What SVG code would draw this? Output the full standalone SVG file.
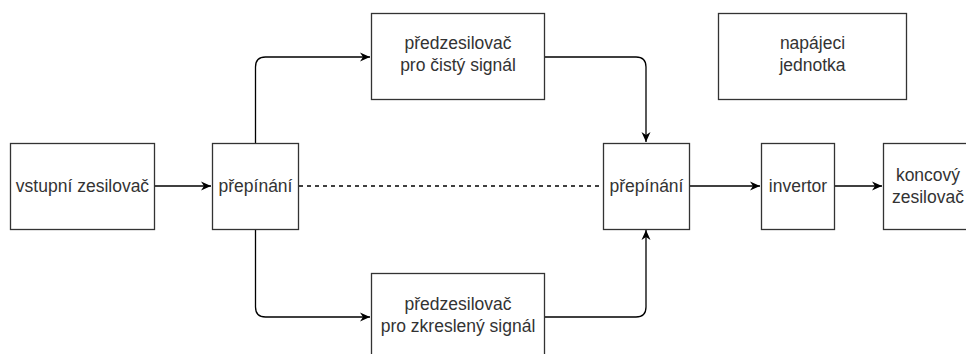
<svg xmlns="http://www.w3.org/2000/svg" width="966" height="354" viewBox="0 0 966 354">
<defs>
<style>
.box{fill:#fff;stroke:#333;stroke-width:1.3}
.t{font-family:"Liberation Sans",Arial,Helvetica,sans-serif;font-size:17.5px;fill:#333;text-anchor:middle}
.c{fill:none;stroke:#000;stroke-width:1.3}
.d{stroke-dasharray:4 4}
</style>
<marker id="ar" markerWidth="12" markerHeight="10" refX="10" refY="5" orient="auto" markerUnits="userSpaceOnUse">
<path d="M0,0.5 L10,5 L0,9.5 L3,5 Z" fill="#000"/>
</marker>
</defs>
<rect width="966" height="354" fill="#fff"/>
<g id="connectors">
<path class="c" d="M154,186 H211" marker-end="url(#ar)"/>
<path class="c d" d="M299,186 H603"/>
<path class="c" d="M255.5,143 V67 Q255.5,57 265.5,57 H370" marker-end="url(#ar)"/>
<path class="c" d="M255.5,229 V307 Q255.5,317 265.5,317 H370" marker-end="url(#ar)"/>
<path class="c" d="M544,57 H636 Q646,57 646,67 V142" marker-end="url(#ar)"/>
<path class="c" d="M544,317 H636 Q646,317 646,307 V230" marker-end="url(#ar)"/>
<path class="c" d="M689,186 H760" marker-end="url(#ar)"/>
<path class="c" d="M834,186 H882" marker-end="url(#ar)"/>
</g>
<g id="vstupni">
<rect class="box" x="10.5" y="143.5" width="144" height="86"/>
<text class="t" x="82.5" y="192">vstupní zesilovač</text>
</g>
<g id="prepinani1">
<rect class="box" x="212.5" y="143.5" width="86" height="86"/>
<text class="t" x="255.5" y="192">přepínání</text>
</g>
<g id="predzesilovac-cisty">
<rect class="box" x="371.5" y="13.5" width="173" height="86"/>
<text class="t" x="458" y="49">předzesilovač</text>
<text class="t" x="458" y="70.5">pro čistý signál</text>
</g>
<g id="predzesilovac-zkresleny">
<rect class="box" x="371.5" y="273.5" width="173" height="86"/>
<text class="t" x="458" y="310">předzesilovač</text>
<text class="t" x="458" y="331.5">pro zkreslený signál</text>
</g>
<g id="napajeci">
<rect class="box" x="718.5" y="13.5" width="188" height="86"/>
<text class="t" x="812.5" y="49">napájeci</text>
<text class="t" x="812.5" y="70.5">jednotka</text>
</g>
<g id="prepinani2">
<rect class="box" x="603.5" y="143.5" width="86" height="86"/>
<text class="t" x="646.5" y="192">přepínání</text>
</g>
<g id="invertor">
<rect class="box" x="761.5" y="143.5" width="73" height="86"/>
<text class="t" x="798" y="192">invertor</text>
</g>
<g id="koncovy">
<rect class="box" x="883.5" y="143.5" width="90" height="86"/>
<text class="t" x="928" y="181">koncový</text>
<text class="t" x="928" y="202.5">zesilovač</text>
</g>
</svg>
